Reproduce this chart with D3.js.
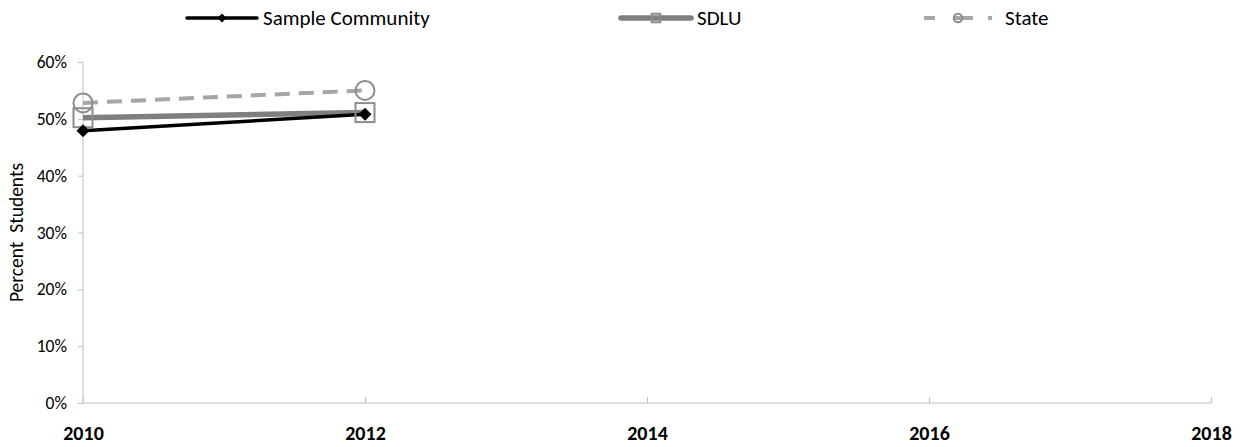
<!doctype html>
<html lang="en">
<head>
  <meta charset="utf-8">
  <title>Percent Students - D3</title>
  <style>
    body { margin: 0; background: #fff; }
    text { font-family: Carlito, Calibri, Lato, "Open Sans", sans-serif; }
  </style>
</head>
<body>
  <svg></svg>
  <script src="https://cdn.jsdelivr.net/npm/d3@7"></script>
  <script>
    const width = 1243;
    const height = 447;
    const margin = { top: 62, right: 32, bottom: 44, left: 83 };

    // 数据
    const years = [2010, 2012];
    const xTicks = [2010, 2012, 2014, 2016, 2018];
    const yTicks = [0, 0.1, 0.2, 0.3, 0.4, 0.5, 0.6];
    const sampleCommunity = [0.479, 0.508];
    const sdlu = [0.502, 0.511];
    const state = [0.528, 0.550];

    const series = [
      { name: 'State', values: state, color: '#a6a6a6', width: 4, dash: '15,9', marker: 'circle', mColor: '#8c8c8c' },
      { name: 'SDLU', values: sdlu, color: '#7f7f7f', width: 5.5, dash: null, marker: 'square', mColor: '#8c8c8c' },
      { name: 'Sample Community', values: sampleCommunity, color: '#000', width: 3.5, dash: null, marker: 'diamond', mColor: '#000' }
    ];

    const svg = d3.select('svg')
      .attr('width', width)
      .attr('height', height);

    const x = d3.scaleLinear()
      .domain([2010, 2018])
      .range([margin.left, width - margin.right]);

    const y = d3.scaleLinear()
      .domain([0, 0.6])
      .range([height - margin.bottom, margin.top]);

    // 纵坐标
    svg.append('g')
      .attr('transform', 'translate(' + margin.left + ',0)')
      .call(d3.axisLeft(y).tickValues(yTicks).tickFormat(d3.format('.0%')).tickSize(5).tickPadding(11))
      .call(g => g.select('.domain').attr('stroke', '#bfbfbf').attr('d', 'M0,' + y(0.6) + 'V' + y(0)))
      .call(g => g.selectAll('.tick line').attr('stroke', '#bfbfbf'))
      .call(g => g.selectAll('.tick text').attr('font-size', 17.5).attr('fill', '#000'));

    // 横坐标
    svg.append('g')
      .attr('transform', 'translate(0,' + y(0) + ')')
      .call(d3.axisBottom(x).tickValues(xTicks).tickFormat(d3.format('d')).tickSize(0))
      .call(g => g.select('.domain').attr('stroke', '#bfbfbf').attr('d', 'M' + x(2010) + ',0H' + x(2018)))
      .call(g => g.selectAll('.tick line').attr('stroke', '#bfbfbf').attr('y2', -6))
      .call(g => g.selectAll('.tick text')
        .attr('font-size', 20).attr('font-weight', 'bold').attr('fill', '#000').attr('dy', 0).attr('y', 37));

    // 纵坐标标题
    svg.append('text')
      .attr('transform', 'translate(23,' + y(0.3) + ') rotate(-90)')
      .attr('text-anchor', 'middle')
      .attr('font-size', 19.5)
      .attr('xml:space', 'preserve')
      .text('Percent  Students');

    function drawMarker(g, type, cx, cy, color, scale) {
      if (type === 'circle') {
        g.append('circle').attr('cx', cx).attr('cy', cy).attr('r', 9.5 * scale)
          .attr('fill', 'none').attr('stroke', color).attr('stroke-width', 2);
      } else if (type === 'square') {
        const s = 19 * scale;
        g.append('rect').attr('x', cx - s / 2).attr('y', cy - s / 2).attr('width', s).attr('height', s)
          .attr('fill', 'none').attr('stroke', color).attr('stroke-width', 2);
      } else {
        const r = 6.5 * scale;
        g.append('path').attr('d', `M${cx},${cy - r}L${cx + r},${cy}L${cx},${cy + r}L${cx - r},${cy}Z`)
          .attr('fill', color);
      }
    }

    // 折线
    const line = d3.line().x((d, i) => x(years[i])).y(d => y(d));
    series.forEach(s => {
      svg.append('path')
        .datum(s.values)
        .attr('d', line)
        .attr('fill', 'none')
        .attr('stroke', s.color)
        .attr('stroke-width', s.width)
        .attr('stroke-dasharray', s.dash);
    });
    series.forEach(s => {
      const g = svg.append('g');
      s.values.forEach((v, i) => drawMarker(g, s.marker, x(years[i]), y(v), s.mColor, 1));
    });

    // 图例
    const legend = [
      { s: series[2], x1: 187, x2: 257, mx: 222, tx: 263, dash: null },
      { s: series[1], x1: 621, x2: 691, mx: 656, tx: 697, dash: null },
      { s: series[0], x1: 924, x2: 992, mx: 958, tx: 1005, dash: '11,18,20,15,4' }
    ];
    legend.forEach(l => {
      const g = svg.append('g');
      const ly = 18;
      g.append('line')
        .attr('x1', l.x1).attr('x2', l.x2).attr('y1', ly).attr('y2', ly)
        .attr('stroke', l.s.color).attr('stroke-width', l.s.width)
        .attr('stroke-linecap', l.dash ? 'butt' : 'round')
        .attr('stroke-dasharray', l.dash);
      drawMarker(g, l.s.marker, l.mx, ly, l.s.mColor, l.s.marker === 'diamond' ? 0.7 : 0.45);
      g.append('text')
        .attr('x', l.tx).attr('y', ly).attr('dy', '0.35em')
        .attr('font-size', 21)
        .text(l.s.name);
    });
  </script>
</body>
</html>
